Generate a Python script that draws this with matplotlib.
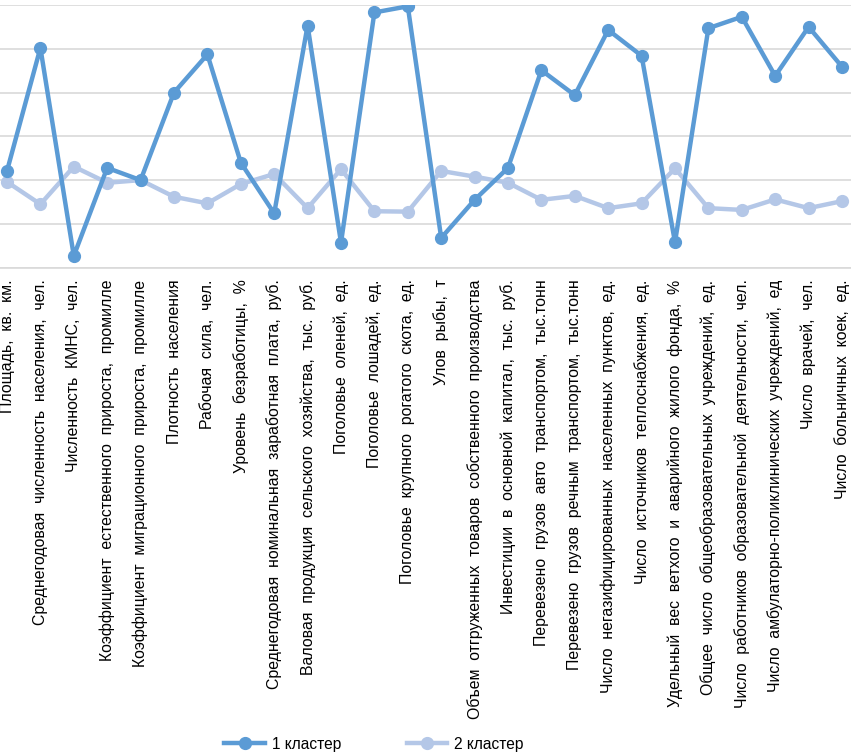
import matplotlib
matplotlib.use("Agg")
import matplotlib.pyplot as plt

plt.rcParams['font.family'] = ['Liberation Sans', 'DejaVu Sans']

categories = [
    "Площадь,  кв.  км.",
    "Среднегодовая  численность  населения,  чел.",
    "Численность  КМНС,  чел.",
    "Коэффициент  естественного  прироста,  промилле",
    "Коэффициент  миграционного  прироста,  промилле",
    "Плотность  населения",
    "Рабочая  сила,  чел.",
    "Уровень  безработицы,  %",
    "Среднегодовая  номинальная  заработная  плата,  руб.",
    "Валовая  продукция  сельского  хозяйства,  тыс.  руб.",
    "Поголовье  оленей,  ед.",
    "Поголовье  лошадей,  ед.",
    "Поголовье  крупного  рогатого  скота,  ед.",
    "Улов  рыбы,  т",
    "Объем  отгруженных  товаров  собственного  производства",
    "Инвестиции  в  основной  капитал,  тыс.  руб.",
    "Перевезено  грузов  авто  транспортом,  тыс.тонн",
    "Перевезено  грузов  речным  транспортом,  тыс.тонн",
    "Число  негазифицированных  населенных  пунктов,  ед.",
    "Число  источников  теплоснабжения,  ед.",
    "Удельный  вес  ветхого  и  аварийного  жилого  фонда,  %",
    "Общее  число  общеобразовательных  учреждений,  ед.",
    "Число  работников  образовательной  деятельности,  чел.",
    "Число  амбулаторно-поликлинических  учреждений,  ед",
    "Число  врачей,  чел.",
    "Число  больничных  коек,  ед.",
]

cluster1 = [2.21, 5.02, 0.27, 2.28, 2.00, 4.00, 4.87, 2.40, 1.24, 5.53,
            0.57, 5.83, 5.97, 0.68, 1.55, 2.28, 4.51, 3.94, 5.43, 4.84,
            0.58, 5.47, 5.73, 4.38, 5.50, 4.59]
cluster2 = [1.96, 1.45, 2.31, 1.94, 2.00, 1.62, 1.47, 1.91, 2.14, 1.36,
            2.25, 1.29, 1.28, 2.21, 2.08, 1.94, 1.55, 1.64, 1.36, 1.47,
            2.27, 1.36, 1.32, 1.56, 1.36, 1.52]
series_names = ["1 кластер", "2 кластер"]

W, H = 851, 754
fig = plt.figure(figsize=(W / 100, H / 100), dpi=100)
left_px, right_px = -9.7, 858.7
top_px, bottom_px = 5.0, 267.7
ax = fig.add_axes([left_px / W, 1 - bottom_px / H,
                   (right_px - left_px) / W, (bottom_px - top_px) / H])

x = list(range(len(categories)))
ax.plot(x, cluster1, color='#5B9BD5', lw=3.2, marker='o', ms=8.5,
        label=series_names[0], zorder=3, solid_joinstyle='round')
ax.plot(x, cluster2, color='#B4C7E7', lw=3.2, marker='o', ms=8.5,
        label=series_names[1], zorder=2, solid_joinstyle='round')

ax.set_xlim(-0.5, len(categories) - 0.5)
ax.set_ylim(0, 6)
ax.set_yticks(range(0, 7))
ax.yaxis.grid(True, color='#D9D9D9', lw=1.2)
ax.set_axisbelow(True)
ax.tick_params(axis='y', left=False, labelleft=False)
ax.tick_params(axis='x', bottom=False, pad=5)
for s in ['top', 'left', 'right']:
    ax.spines[s].set_visible(False)
ax.spines['bottom'].set_color('#D9D9D9')
ax.spines['bottom'].set_linewidth(1.2)

ax.set_xticks(x)
ax.set_xticklabels(categories, rotation=90, ha='center', va='top',
                   fontsize=11.4, color='#000000')

fig.legend(loc='center', bbox_to_anchor=(374 / W, 10 / H), ncol=2,
           frameon=False, fontsize=11.2, handlelength=2.6,
           columnspacing=4.2, handletextpad=0.45)

fig.savefig('out.png', dpi=100)
